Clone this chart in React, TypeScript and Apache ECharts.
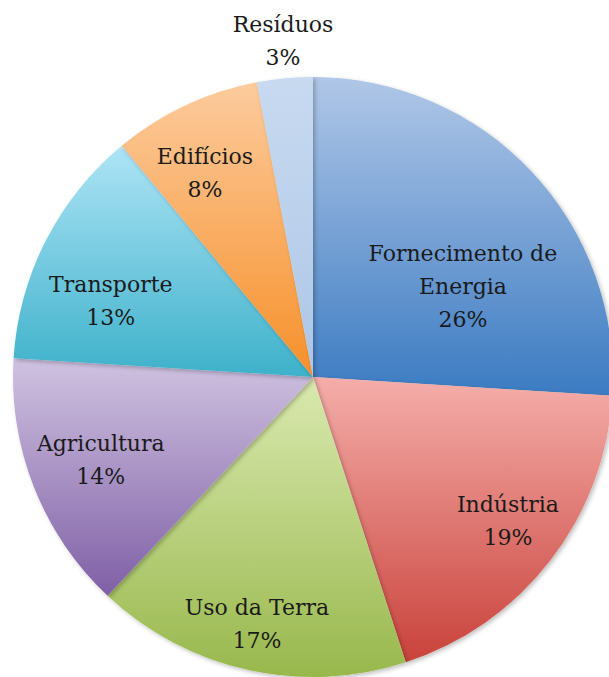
import React, { useEffect, useRef } from "react";
import * as echarts from "echarts";

const categories = [
  "Fornecimento de Energia",
  "Indústria",
  "Uso da Terra",
  "Agricultura",
  "Transporte",
  "Edifícios",
  "Resíduos",
];
const values = [26, 19, 17, 14, 13, 8, 3];

// gradient colours (top -> bottom) for each slice
const topColors = ["#b0c7e7", "#f5aeaa", "#dae9b0", "#d0c3e1", "#aee4f6", "#fccb9d", "#c8daf0"];
const bottomColors = ["#3b7bc2", "#c9423b", "#98b84c", "#7f5fa6", "#3db1ca", "#f7902a", "#adc6e7"];

// label placement: angle (deg clockwise from top) and radius fraction
const labelAngles = [59, 126.4, 192.8, 248.6, 290.6, 332.1, 354.9];
const labelRadius = [0.583, 0.807, 0.844, 0.76, 0.72, 0.77, 1.123];

const CX = 313;
const CY = 377;
const R = 300;

export default function App() {
  const ref = useRef<HTMLDivElement>(null);
  useEffect(() => {
    document.body.style.margin = "0";
    const chart = echarts.init(ref.current!, null, { renderer: "svg" });
    const data = categories.map((name, i) => ({
      name,
      value: values[i],
      itemStyle: {
        color: new echarts.graphic.LinearGradient(0, 0, 0, 1, [
          { offset: 0, color: topColors[i] },
          { offset: 1, color: bottomColors[i] },
        ]),
      },
    }));
    chart.setOption({
      animation: false,
      backgroundColor: "#ffffff",
      series: [
        {
          type: "pie",
          center: [CX, CY],
          radius: [0, R],
          startAngle: 90,
          clockwise: true,
          avoidLabelOverlap: false,
          silent: true,
          data,
          itemStyle: {
            borderWidth: 0,
            shadowBlur: 4,
            shadowOffsetX: 2,
            shadowOffsetY: 2,
            shadowColor: "rgba(0,0,0,0.25)",
          },
          label: {
            show: true,
            position: "inside",
            color: "#1a1a1a",
            fontFamily: "DejaVu Serif",
            fontSize: 22,
            lineHeight: 33,
            align: "center",
            formatter: (p: any) => {
              const n = p.name === "Fornecimento de Energia" ? "Fornecimento de\nEnergia" : p.name;
              return n + "\n" + p.value + "%";
            },
          },
          labelLine: { show: false },
          labelLayout: (p: any) => {
            const i = p.dataIndex;
            const a = (labelAngles[i] * Math.PI) / 180;
            const d = labelRadius[i] * R;
            return {
              x: CX + d * Math.sin(a),
              y: CY - d * Math.cos(a),
              align: "center",
              verticalAlign: "middle",
            };
          },
        },
      ],
    });
    return () => chart.dispose();
  }, []);
  return <div ref={ref} style={{ width: 609, height: 677 }} />;
}
